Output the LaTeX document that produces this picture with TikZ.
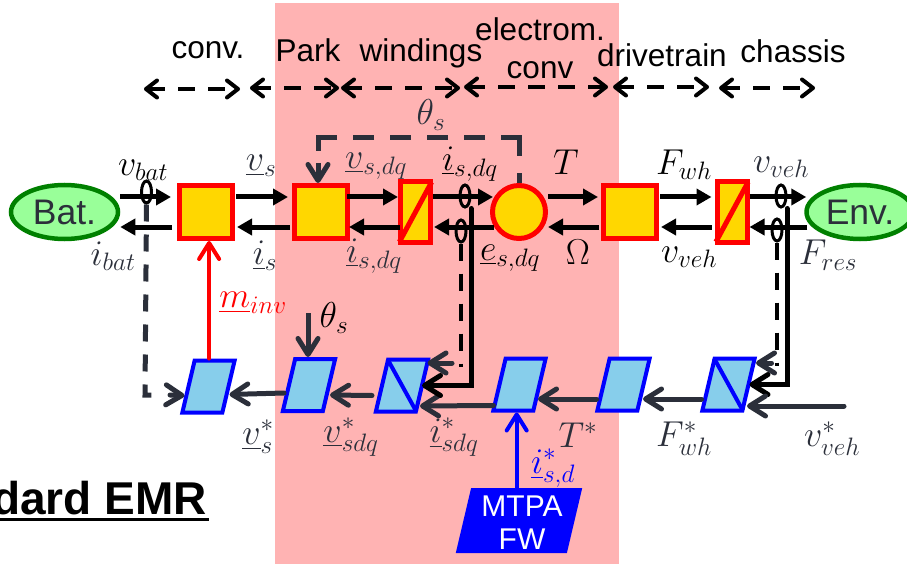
\RequirePackage{fix-cm}
\documentclass[tikz,border=0pt]{standalone}
\usepackage{amsmath}
\usepackage[no-math]{fontspec}
\setmainfont{Liberation Sans}
\usepackage{xcolor}
\usepackage{tikz}
\usetikzlibrary{positioning, arrows.meta, shapes.geometric}
\definecolor{darktext}{HTML}{2B2F3A}
\definecolor{lightred}{HTML}{FFB3B3}
\definecolor{lightgreen}{HTML}{99FF99}
\definecolor{darkgreen}{HTML}{008000}
\definecolor{gold}{HTML}{FFD700}
\definecolor{skyblue}{HTML}{87CEEB}
\tikzstyle{line} = [draw, black, line width=5pt, -{Triangle[length=15pt,width=16pt]}]
\tikzstyle{barb} = [draw, darktext, line width=5pt, line cap=round, -{Straight Barb[length=16pt,width=20pt,round]}]
\tikzstyle{extent} = [draw, black, line width=4pt, dash pattern=on 17pt off 13pt, {Straight Barb[length=11pt,width=17pt,round]}-{Straight Barb[length=11pt,width=17pt,round]}]
\tikzstyle{source} = [ellipse, draw=darkgreen, fill=lightgreen, line width=4.5pt, minimum width=107pt, minimum height=54pt, inner sep=0pt, text=darktext, font=\fontsize{35.5}{36}\selectfont]
\tikzstyle{block} = [rectangle, draw=red, fill=gold, line width=5pt, minimum size=53pt, inner sep=0pt]
\tikzstyle{coupling} = [rectangle, draw=red, fill=gold, line width=5pt, minimum width=30pt, minimum height=60pt, inner sep=0pt]
\tikzstyle{control} = [rectangle, xslant=0.236, transform shape, draw=blue, fill=skyblue, line width=4pt, minimum width=40pt, minimum height=52pt, inner sep=0pt]
\tikzstyle{ring} = [ellipse, draw=black, line width=3pt, minimum width=10pt, minimum height=22pt, inner sep=0pt]
\tikzstyle{heading} = [anchor=base, inner sep=0pt, font=\fontsize{31.5}{33}\selectfont]
\tikzstyle{lab} = [inner sep=0pt, text=darktext, font=\fontsize{36}{38}\selectfont]

\begin{document}
\begin{tikzpicture}[x=1pt, y=-1pt, node distance=100pt]
        \clip (0,0) rectangle (907,564);
        \fill [lightred] (275,3) rectangle (619,564);
        % Place headings
        \node [heading] (hconv) at (208,59) {conv.};
        \node [heading] (hpark) at (308,62) {Park};
        \node [heading] (hwind) at (421,62) {windings};
        \node [heading] (hem) at (540,41) {electrom.};
        \node [heading] (hemb) at (540,79) {conv};
        \node [heading] (hdrive) at (662,67) {drivetrain};
        \node [heading] (hchassis) at (793,63) {chassis};
        \node [anchor=base east, inner sep=0pt, font=\fontsize{46}{48}\selectfont\bfseries] (title) at (207,514) {dard EMR};
        \draw [line width=3pt] (0,519) -- (209,519);
        % Place nodes
        \node [source] (bat) at (64.5,212) {Bat.};
        \node [block] (inv) at (206,212) {};
        \node [block, right of=inv, node distance=115pt] (park) {};
        \node [coupling, right of=park, node distance=94.5pt] (wind) {};
        \node [circle, draw=red, fill=gold, line width=5pt, minimum size=53pt, inner sep=0pt, right of=wind, node distance=103.5pt] (em) {};
        \node [block, right of=em, node distance=111pt] (drive) {};
        \node [coupling, right of=drive, node distance=102pt] (chassis) {};
        \node [source] (env) at (860,212) {Env.};
        \draw [red, line width=5pt, shorten <=3pt, shorten >=3pt] (wind.south west) -- (wind.north east);
        \draw [red, line width=5pt, shorten <=3pt, shorten >=3pt] (chassis.south west) -- (chassis.north east);
        % Strategy row
        \node [control] (cinv) at (208.5,386.5) {};
        \node [control] (cpark) at (309,385) {};
        \node [control] (cwind) at (402,385.5) {};
        \node [control] (cem) at (519.5,384.5) {};
        \node [control] (cdrive) at (623.5,384.5) {};
        \node [control] (cchassis) at (728.5,384.5) {};
        \draw [blue, line width=4pt, shorten <=2pt, shorten >=2pt] (cwind.north west) -- (cwind.south east);
        \draw [blue, line width=4pt, shorten <=2pt, shorten >=2pt] (cchassis.north west) -- (cchassis.south east);
        \node [control, fill=blue, minimum width=107pt, minimum height=61pt] (mtpa) at (519,520.5) {};
        \node [inner sep=0pt, text=white, align=center, font=\fontsize{30}{33}\selectfont] (mtpatext) at (522,523) {MTPA\\FW};
        % Measurement rings
        \node [ring] (rbat) at (146.5,192) {};
        \node [ring] (rcur) at (465,196) {};
        \node [ring] (remf) at (461,231) {};
        \node [ring] (rveh) at (781,196) {};
        \node [ring] (rres) at (777,230) {};
        % Free ends
        \coordinate (thetain) at (308,313);
        \coordinate (vehin) at (844,406);
        \coordinate (batdown) at (145,395);
        \coordinate (thetaup) at (519,138);
        \coordinate (a1) at (144,89); \coordinate (a2) at (240,89);
        \coordinate (b1) at (250,88); \coordinate (b2) at (339,88);
        \coordinate (c1) at (341,88); \coordinate (c2) at (460,88);
        \coordinate (d1) at (464,87); \coordinate (d2) at (608,87);
        \coordinate (e1) at (613,87); \coordinate (e2) at (709,87);
        \coordinate (f1) at (719,88); \coordinate (f2) at (815,88);
        % Draw extent arrows
        \path [extent] (a1) -- (a2);
        \path [extent] (b1) -- (b2);
        \path [extent] (c1) -- (c2);
        \path [extent] (d1) -- (d2);
        \path [extent] (e1) -- (e2);
        \path [extent] (f1) -- (f2);
        % Draw edges
        \path [line] ([yshift=15pt]bat.east) -- ([yshift=15pt,xshift=-6pt]inv.west);
        \path [line] ([yshift=15pt,xshift=1pt]inv.east) -- ([yshift=15pt,xshift=-4pt]park.west);
        \path [line] ([yshift=15pt,xshift=-3pt]park.east) -- ([yshift=15pt]wind.west);
        \path [line] ([yshift=15pt]wind.east) -- ([yshift=15pt,xshift=3pt]em.west);
        \path [line] ([yshift=15pt]em.east) -- ([yshift=15pt,xshift=-3pt]drive.west);
        \path [line] ([yshift=15pt,xshift=1pt]drive.east) -- ([yshift=15pt,xshift=-3pt]chassis.west);
        \path [line] ([yshift=15pt]chassis.east) -- ([yshift=15pt,xshift=2pt]env.west);
        \path [line] ([yshift=-15pt,xshift=-5pt]inv.west) -- ([yshift=-15pt]bat.east);
        \path [line] ([yshift=-15pt,xshift=-2pt]park.west) -- ([yshift=-15pt,xshift=2pt]inv.east);
        \path [line] ([yshift=-15pt,xshift=2pt]wind.west) -- ([yshift=-15pt,xshift=-1pt]park.east);
        \path [line] ([yshift=-15pt,xshift=-25pt]em.center) -- ([yshift=-15pt,xshift=1pt]wind.east);
        \path [line] ([yshift=-15pt,xshift=-2pt]drive.west) -- ([yshift=-15pt,xshift=29pt]em.center);
        \path [line] ([yshift=-15pt,xshift=-3pt]chassis.west) -- ([yshift=-15pt,xshift=2pt]drive.east);
        \path [line] ([yshift=-15pt,xshift=3pt]env.west) -- ([yshift=-15pt]chassis.east);
        % Feedback and strategy
        \path [barb, line cap=butt, dash pattern=on 10pt off 17pt on 36pt off 16pt on 21pt off 16pt on 21pt off 16pt on 21pt off 16pt on 21pt off 16pt on 32pt off 12pt on 40pt off 10pt] (em.north) |- (thetaup) -| ([xshift=-3pt]park.north);
        \draw [darktext, line width=5pt, dash pattern=on 17pt off 13pt] (rbat.south) -- (batdown) -- ([xshift=14pt]batdown);
        \path [barb] ([xshift=25pt]batdown) -- ([xshift=-2pt,yshift=-9pt]cinv.west);
        \path [barb, draw=red, red, line width=4pt] ([xshift=-6pt]cinv.north) -- ([xshift=-6pt]cinv.north |- inv.south);
        \path [barb, line cap=butt] (thetain) -- (thetain |- cpark.north);
        \path [barb] ([xshift=-3pt,yshift=-8pt]cpark.west) -- ([xshift=-1pt,yshift=-8pt]cinv.east);
        \path [barb] ([xshift=-8pt,yshift=-10pt]cwind.west) -- ([xshift=-1pt,yshift=-10pt]cpark.east);
        \path [barb] ([xshift=-4pt,yshift=-21pt]cem.west) -- ([xshift=-4pt,yshift=-20.5pt]cwind.east);
        \path [barb] ([xshift=-5pt,yshift=-14.5pt]cdrive.west) -- ([xshift=-3.5pt,yshift=-14.5pt]cem.east);
        \path [barb] ([xshift=-5pt,yshift=-14.5pt]cchassis.west) -- ([xshift=-2.5pt,yshift=-14.5pt]cdrive.east);
        \path [barb, draw=black, black] ([xshift=6pt]rcur.south) |- ([xshift=-2pt]cwind.east);
        \path [barb, draw=black, black] ([xshift=6pt]rveh.south) |- ([xshift=-1pt]cchassis.east);
        \draw [black, line width=4pt, dash pattern=on 17pt off 13pt] (remf.south) -- ([yshift=-9pt]remf.south |- cwind.north);
        \path [barb] ([xshift=28pt,yshift=22.5pt]cwind.east) -- ([xshift=3.5pt,yshift=22.5pt]cwind.east);
        \draw [black, line width=4pt, dash pattern=on 17pt off 13pt] (rres.south) -- ([yshift=-9pt]rres.south |- cchassis.north);
        \path [barb] ([xshift=21pt,yshift=21.5pt]cchassis.east) -- ([xshift=5.5pt,yshift=21.5pt]cchassis.east);
        \path [barb] (vehin) -- ([xshift=-3.5pt,yshift=-21.5pt]cchassis.east);
        \path [barb, draw=blue, blue, line width=4pt] ([xshift=-10pt]mtpa.north) -- ([xshift=-10pt]mtpa.north |- cem.south);
        % Place labels
        \node [lab, text=black] (lvbat) at (143,170) {$v_{bat}$};
        \node [lab] (libat) at (113,256) {$i_{bat}$};
        \node [lab] (lvs) at (261,166) {$\underline{v}_{s}$};
        \node [lab] (lis) at (265,256) {$\underline{i}_{s}$};
        \node [lab, text=red] (lminv) at (253,303) {$\underline{m}_{inv}$};
        \node [lab, text=black] (lthetab) at (334,318) {$\theta_{s}$};
        \node [lab] (ltheta) at (431,115) {$\theta_{s}$};
        \node [lab] (lvsdq) at (376,166) {$\underline{v}_{s,dq}$};
        \node [lab, text=black] (lisdq) at (470,164) {$\underline{i}_{s,dq}$};
        \node [lab] (lisdqb) at (374,256) {$\underline{i}_{s,dq}$};
        \node [lab, text=black] (lesdq) at (510,258) {$\underline{e}_{s,dq}$};
        \node [lab, text=black] (lT) at (566,162) {$T$};
        \node [lab, text=black] (lOmega) at (578,252) {$\Omega$};
        \node [lab, text=black] (lFwh) at (684,165) {$F_{wh}$};
        \node [lab] (lvveh) at (781,167) {$v_{veh}$};
        \node [lab, text=black] (lvvehb) at (689,257) {$v_{veh}$};
        \node [lab] (lFres) at (828,255) {$F_{res}$};
        \node [lab] (lvss) at (258,437) {$\underline{v}_{s}^{*}$};
        \node [lab] (lvsdqs) at (351,437) {$\underline{v}_{sdq}^{*}$};
        \node [lab] (lisdqs) at (454,437) {$\underline{i}_{sdq}^{*}$};
        \node [lab] (lTs) at (578,435) {$T^{*}$};
        \node [lab] (lFwhs) at (684,439) {$F_{wh}^{*}$};
        \node [lab] (lvvehs) at (832,439) {$v_{veh}^{*}$};
        \node [lab, text=blue] (lisd) at (553,468) {$\underline{i}_{s,d}^{*}$};
\end{tikzpicture}
\end{document}
